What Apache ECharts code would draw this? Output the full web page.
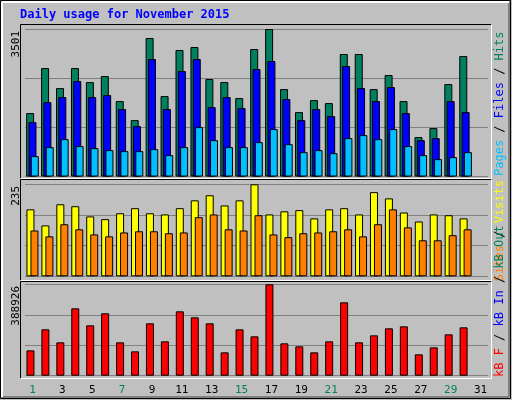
<!DOCTYPE html>
<html><head><meta charset="utf-8">
<script src="https://cdn.jsdelivr.net/npm/echarts@6/dist/echarts.min.js"></script>
<style>html,body{margin:0;padding:0;background:#c0c0c0}#c{width:512px;height:400px}</style>
</head><body><div id="c"></div>
<script>
const days = ['1','2','3','4','5','6','7','8','9','10','11','12','13','14','15','16','17','18','19','20','21','22','23','24','25','26','27','28','29','30','31'];
const weekendDays = ['1','7','8','14','15','21','22','28','29'];
const hits = [1505,2574,2099,2574,2241,2384,1790,1338,3287,1909,3002,3073,2313,2241,1861,3026,3501,2075,1529,1813,1742,2907,2907,2075,2408,1790,935,1149,2194,2859,null];
const files = [1291,1766,1885,2265,1885,1932,1600,1196,2788,1600,2503,2788,1647,1885,1624,2550,2740,1837,1338,1600,1434,2622,2099,1790,2123,1505,863,911,1790,1529,null];
const pages = [483,697,887,721,673,626,602,602,649,507,697,1172,863,697,697,816,1125,768,578,626,554,911,982,887,1125,721,507,412,459,578,null];
const visits = [171,130,184,179,153,146,161,174,161,158,174,194,207,181,194,235,158,166,169,148,171,174,158,215,199,163,140,158,156,148,null];
const sites = [117,102,133,120,107,102,112,115,115,110,112,151,158,120,117,156,107,100,110,112,115,120,102,133,171,125,92,92,105,120,null];
const kbytes = [107874,197297,141940,286719,214329,265428,141940,103616,222845,146198,273945,248396,222845,99358,197297,167490,388926,137682,124907,99358,146198,312268,141940,171748,201555,210071,90842,120649,176006,205813,null];
const maxHits = 3501, maxVisits = 235, maxKB = 388926;

const ch = echarts.init(document.getElementById('c'), null, {renderer:'canvas'});
const font = 'DejaVu Sans Mono';
const grids = [
  {left:25, width:463, top:29, height:147.5},
  {left:25, width:463, top:184.3, height:92},
  {left:25, width:463, top:284.3, height:91.4}
];
function xa(i, show){
  return {type:'category', gridIndex:i, data:days, axisTick:{show:false}, axisLine:{show:false},
    axisLabel:{show:show, margin:9, fontFamily:font, fontSize:11,
      color:(v)=>weekendDays.includes(v)?'#008060':'#000'}};
}
function ya(i, max){
  return {type:'value', gridIndex:i, min:0, max:max, interval:max/3, axisLabel:{show:false},
    axisLine:{show:false}, axisTick:{show:false}, splitLine:{lineStyle:{color:'#808080', width:1}}};
}
const bs = {borderColor:'#000', borderWidth:1};
function frame(x1,y1,x2,y2){
  return [
    {type:'line', shape:{x1:x1,y1:y1,x2:x2,y2:y1}, style:{stroke:'#000',lineWidth:1}},
    {type:'line', shape:{x1:x1,y1:y1,x2:x1,y2:y2}, style:{stroke:'#000',lineWidth:1}},
    {type:'line', shape:{x1:x1,y1:y2,x2:x2,y2:y2}, style:{stroke:'#fff',lineWidth:1}},
    {type:'line', shape:{x1:x2,y1:y1,x2:x2,y2:y2}, style:{stroke:'#fff',lineWidth:1}}
  ];
}
const sep = {color:'#000'};
ch.setOption({
  animation:false,
  backgroundColor:'#c0c0c0',
  grid:grids,
  xAxis:[xa(0,false), xa(1,false), xa(2,true)],
  yAxis:[ya(0,maxHits), ya(1,maxVisits), ya(2,maxKB)],
  series:[
    {type:'bar', xAxisIndex:0, yAxisIndex:0, data:hits, barWidth:8, barGap:'-71%', itemStyle:Object.assign({color:'#008060'},bs)},
    {type:'bar', xAxisIndex:0, yAxisIndex:0, data:files, barWidth:8, barGap:'-71%', itemStyle:Object.assign({color:'#0000ff'},bs)},
    {type:'bar', xAxisIndex:0, yAxisIndex:0, data:pages, barWidth:8, barGap:'-71%', itemStyle:Object.assign({color:'#00c0ff'},bs)},
    {type:'bar', xAxisIndex:1, yAxisIndex:1, data:visits, barWidth:8, barGap:'-50%', itemStyle:Object.assign({color:'#ffff00'},bs)},
    {type:'bar', xAxisIndex:1, yAxisIndex:1, data:sites, barWidth:8, barGap:'-50%', itemStyle:Object.assign({color:'#ff8000'},bs)},
    {type:'bar', xAxisIndex:2, yAxisIndex:2, data:kbytes, barWidth:8, barGap:'-50%', itemStyle:Object.assign({color:'#ff0000'},bs)},
    {type:'bar', xAxisIndex:2, yAxisIndex:2, data:[], barWidth:8, barGap:'-50%'}
  ],
  graphic:[
    {type:'rect', shape:{x:0.5,y:0.5,width:510,height:398}, style:{fill:'none', stroke:'#000', lineWidth:1}},
    {type:'line', shape:{x1:2,y1:397,x2:509,y2:397}, style:{stroke:'#808080',lineWidth:2}},
    {type:'line', shape:{x1:509,y1:2,x2:509,y2:397}, style:{stroke:'#808080',lineWidth:2}},
    {type:'line', shape:{x1:2,y1:2,x2:509,y2:2}, style:{stroke:'#fff',lineWidth:2}},
    {type:'line', shape:{x1:2,y1:2,x2:2,y2:397}, style:{stroke:'#fff',lineWidth:2}},
    ...frame(20.5,24.5,491.5,178.5),
    ...frame(20.5,179.5,491.5,280.5),
    ...frame(20.5,281.5,491.5,378.5),
    {type:'text', x:20, y:9, style:{text:'Daily usage for November 2015', fill:'#0000ff', font:'bold 12px "DejaVu Sans Mono"'}},
    {type:'text', x:11, y:31, rotation:Math.PI/2, style:{text:String(maxHits), fill:'#000', font:'11px "DejaVu Sans Mono"', align:'right', verticalAlign:'top'}},
    {type:'text', x:11, y:186, rotation:Math.PI/2, style:{text:String(maxVisits), fill:'#000', font:'11px "DejaVu Sans Mono"', align:'right', verticalAlign:'top'}},
    {type:'text', x:11, y:286, rotation:Math.PI/2, style:{text:String(maxKB), fill:'#000', font:'11px "DejaVu Sans Mono"', align:'right', verticalAlign:'top'}},
    {type:'text', x:500, y:176, rotation:Math.PI/2, style:{text:'{p|Pages}{s| / }{f|Files}{s| / }{h|Hits}', font:'12px "DejaVu Sans Mono"', align:'left', verticalAlign:'middle',
      rich:{p:{fill:'#00c0ff',font:'12px "DejaVu Sans Mono"'},f:{fill:'#0000ff',font:'12px "DejaVu Sans Mono"'},h:{fill:'#008060',font:'12px "DejaVu Sans Mono"'},s:{fill:'#000',font:'12px "DejaVu Sans Mono"'}}}},
    {type:'text', x:500, y:180, rotation:Math.PI/2, style:{text:'{o|Sites}{s| / }{v|Visits}', font:'12px "DejaVu Sans Mono"', align:'right', verticalAlign:'middle',
      rich:{o:{fill:'#ff8000',font:'12px "DejaVu Sans Mono"'},v:{fill:'#ffff00',font:'12px "DejaVu Sans Mono"'},s:{fill:'#000',font:'12px "DejaVu Sans Mono"'}}}},
    {type:'text', x:500, y:377, rotation:Math.PI/2, style:{text:'{r|kB F}{s| / }{b|kB In}{s| / }{g|kB Out}', font:'12px "DejaVu Sans Mono"', align:'left', verticalAlign:'middle',
      rich:{r:{fill:'#ff0000',font:'12px "DejaVu Sans Mono"'},b:{fill:'#0000ff',font:'12px "DejaVu Sans Mono"'},g:{fill:'#008060',font:'12px "DejaVu Sans Mono"'},s:{fill:'#000',font:'12px "DejaVu Sans Mono"'}}}}
  ]
});
</script></body></html>
